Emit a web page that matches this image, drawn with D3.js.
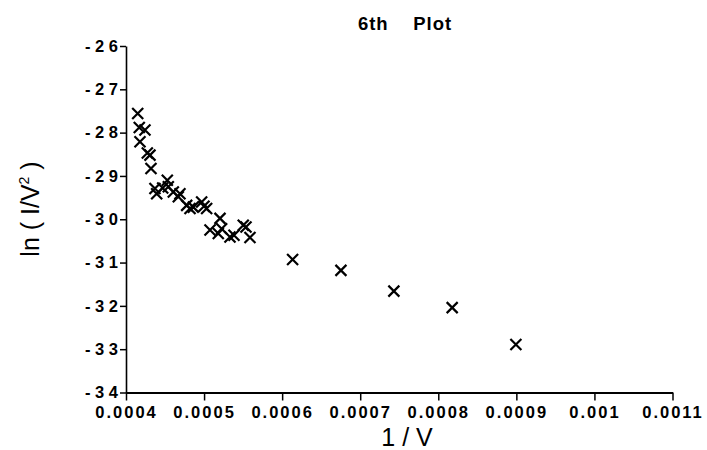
<!DOCTYPE html>
<html>
<head>
<meta charset="utf-8">
<script src="https://cdn.jsdelivr.net/npm/d3@7"></script>
<style>
  html, body { margin: 0; padding: 0; background: #fff; }
  svg { display: block; }
</style>
</head>
<body>
<svg id="chart" width="707" height="450"></svg>
<script>
// ---- data ----
const xValues = [0.000415, 0.000417, 0.0004243, 0.0004179, 0.0004273, 0.0004307, 0.000432,
  0.0004371, 0.0004393, 0.000447, 0.0004529, 0.0004542, 0.0004606, 0.0004691, 0.000467,
  0.0004777, 0.000482, 0.0004862, 0.0004969, 0.0004999, 0.0005033, 0.0005076, 0.0005204,
  0.0005225, 0.0005182, 0.0005332, 0.0005383, 0.0005502, 0.0005537, 0.0005588,
  0.0006134, 0.0006753, 0.0007431, 0.0008178, 0.0008994];
const yValues = [-27.56, -27.88, -27.94, -28.21, -28.47, -28.52, -28.83,
  -29.29, -29.41, -29.28, -29.10, -29.25, -29.37, -29.41, -29.48,
  -29.68, -29.75, -29.72, -29.60, -29.70, -29.75, -30.25, -29.98,
  -30.22, -30.33, -30.41, -30.37, -30.14, -30.18, -30.42,
  -30.93, -31.18, -31.66, -32.04, -32.89];
const xTicks = [0.0004, 0.0005, 0.0006, 0.0007, 0.0008, 0.0009, 0.001, 0.0011];
const xTickLabels = ["0.0004", "0.0005", "0.0006", "0.0007", "0.0008", "0.0009", "0.001", "0.0011"];
const yTicks = [-26, -27, -28, -29, -30, -31, -32, -33, -34];
const yTickLabels = ["- 2 6", "- 2 7", "- 2 8", "- 2 9", "- 3 0", "- 3 1", "- 3 2", "- 3 3", "- 3 4"];
const title = "6th\u00a0\u00a0\u00a0\u00a0Plot";
const xTitle = "1 / V";

// ---- chart ----
const svg = d3.select("#chart");
const x = d3.scaleLinear().domain([0.0004, 0.0011]).range([126, 672.5]);
const y = d3.scaleLinear().domain([-26, -34]).range([46, 392.5]);
const font = "'Liberation Sans', Arial, Helvetica, sans-serif";

// x axis
const xAxis = d3.axisBottom(x).tickValues(xTicks)
  .tickFormat((d, i) => xTickLabels[i]).tickSizeInner(8).tickSizeOuter(0).tickPadding(6);
const gx = svg.append("g").attr("transform", `translate(0,${y(-34)})`).call(xAxis);
gx.select(".domain").attr("stroke", "#000").attr("stroke-width", 2);
gx.selectAll(".tick line").attr("stroke", "#000").attr("stroke-width", 1.5);
gx.selectAll(".tick text").attr("font-family", font).attr("font-size", 16.5)
  .attr("font-weight", "bold").attr("letter-spacing", "2px").attr("fill", "#000");

// y axis
const yAxis = d3.axisLeft(y).tickValues(yTicks)
  .tickFormat((d, i) => yTickLabels[i]).tickSizeInner(6).tickSizeOuter(0).tickPadding(2);
const gy = svg.append("g").attr("transform", `translate(${x(0.0004)},0)`).call(yAxis);
gy.select(".domain").attr("stroke", "#000").attr("stroke-width", 1.6);
gy.selectAll(".tick line").attr("stroke", "#000").attr("stroke-width", 1.5);
gy.selectAll(".tick text").attr("font-family", font).attr("font-size", 16.5)
  .attr("font-weight", "bold").attr("fill", "#000").style("white-space", "pre")
  .attr("xml:space", "preserve");

// markers
const s = 5.5;
svg.append("g").selectAll("path").data(xValues.map((v, i) => [v, yValues[i]]))
  .join("path")
  .attr("d", d => {
    const cx = x(d[0]), cy = y(d[1]);
    return `M${cx - s},${cy - s}L${cx + s},${cy + s}M${cx - s},${cy + s}L${cx + s},${cy - s}`;
  })
  .attr("stroke", "#000").attr("stroke-width", 2.2).attr("fill", "none");

// title
svg.append("text").attr("x", 405).attr("y", 30).attr("text-anchor", "middle")
  .attr("font-family", font).attr("font-size", 18.5).attr("font-weight", "bold")
  .attr("letter-spacing", "1px").text(title);

// x title
svg.append("text").attr("x", 407).attr("y", 446).attr("text-anchor", "middle")
  .attr("font-family", font).attr("font-size", 25).attr("xml:space", "preserve")
  .style("white-space", "pre").text(xTitle);

// y title
const yt = svg.append("text").attr("transform", "translate(39,209) rotate(-90)")
  .attr("text-anchor", "middle").attr("font-family", font).attr("font-size", 25)
  .style("white-space", "pre");
yt.append("tspan").text("ln ( I/V");
yt.append("tspan").attr("font-size", 14).attr("dy", -10).text("2");
yt.append("tspan").attr("dy", 10).text(" )");
</script>
</body>
</html>
